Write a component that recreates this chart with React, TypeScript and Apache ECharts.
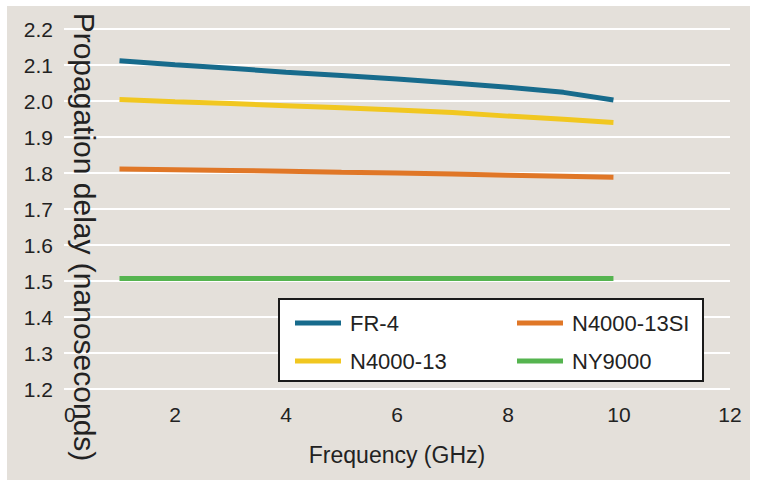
import React, { useEffect, useRef } from "react";
import * as echarts from "echarts";

const freqs = [1, 2, 3, 4, 5, 6, 7, 8, 9, 9.9];
const fr4 = [2.112, 2.101, 2.091, 2.08, 2.071, 2.061, 2.05, 2.038, 2.024, 2.003];
const n4000_13 = [2.004, 1.998, 1.993, 1.987, 1.981, 1.975, 1.968, 1.958, 1.949, 1.94];
const n4000_13si = [1.811, 1.809, 1.807, 1.805, 1.802, 1.8, 1.797, 1.794, 1.791, 1.788];
const ny9000 = [1.507, 1.507, 1.507, 1.507, 1.507, 1.507, 1.507, 1.507, 1.507, 1.507];

const seriesNames = ["FR-4", "N4000-13", "N4000-13SI", "NY9000"];
const seriesColors = ["#176b8c", "#f1c720", "#e07727", "#55b44f"];
const seriesValues = [fr4, n4000_13, n4000_13si, ny9000];

const FONT = "'Liberation Sans', Arial, sans-serif";
const TEXT = "#222";

export default function App() {
  const ref = useRef<HTMLDivElement>(null);

  useEffect(() => {
    if (!ref.current) return;
    const chart = echarts.init(ref.current, undefined, { renderer: "svg" });
    const legendText = {
      color: TEXT,
      fontSize: 22,
      fontFamily: FONT,
      lineHeight: 22,
      padding: [0, 0, 0, 4],
    };
    chart.setOption({
      animation: false,
      backgroundColor: "transparent",
      grid: { left: 64, right: 29, top: 29, bottom: 100 },
      xAxis: {
        type: "value",
        min: 0,
        max: 12,
        interval: 2,
        axisLine: { show: false },
        axisTick: { show: false },
        splitLine: { show: false },
        axisLabel: {
          color: TEXT,
          fontSize: 21,
          fontFamily: FONT,
          margin: 15,
          alignMinLabel: "left",
        },
        name: "Frequency (GHz)",
        nameLocation: "middle",
        nameGap: 66,
        nameTextStyle: {
          color: TEXT,
          fontSize: 23,
          fontFamily: FONT,
          verticalAlign: "middle",
        },
      },
      yAxis: {
        type: "value",
        min: 1.2,
        max: 2.2,
        interval: 0.1,
        axisLine: { show: false },
        axisTick: { show: false },
        splitLine: { show: true, lineStyle: { color: "#ffffff", width: 2 } },
        axisLabel: {
          color: TEXT,
          fontSize: 21,
          fontFamily: FONT,
          margin: 11,
          formatter: (v: number) => v.toFixed(1),
        },
      },
      legend: [
        {
          data: [seriesNames[0], seriesNames[1]],
          orient: "vertical",
          left: 295,
          top: 312,
          padding: 0,
          itemGap: 16,
          itemWidth: 46,
          itemHeight: 5,
          icon: "rect",
          z: 20,
          textStyle: legendText,
        },
        {
          data: [seriesNames[2], seriesNames[3]],
          orient: "vertical",
          left: 517,
          top: 312,
          padding: 0,
          itemGap: 16,
          itemWidth: 46,
          itemHeight: 5,
          icon: "rect",
          z: 20,
          textStyle: legendText,
        },
      ],
      graphic: [
        {
          type: "rect",
          z: 10,
          shape: { x: 279, y: 299, width: 424, height: 82 },
          style: { fill: "#ffffff", stroke: "#1a1a1a", lineWidth: 2 },
        },
        {
          type: "text",
          z: 10,
          x: 84,
          y: 237,
          rotation: -Math.PI / 2,
          style: {
            text: "Propagation delay (nanoseconds)",
            fontSize: 30,
            fontFamily: FONT,
            fill: TEXT,
            align: "center",
            verticalAlign: "middle",
          },
        },
      ],
      series: seriesNames.map((name, i) => ({
        name,
        type: "line",
        data: freqs.map((f, j) => [f, seriesValues[i][j]]),
        showSymbol: false,
        symbol: "none",
        color: seriesColors[i],
        lineStyle: { color: seriesColors[i], width: 5 },
      })),
    });
    return () => chart.dispose();
  }, []);

  return (
    <div style={{ position: "fixed", left: 0, top: 0, width: 759, height: 489, background: "#ffffff" }}>
      <div
        style={{
          position: "absolute",
          left: 7,
          top: 6,
          width: 743,
          height: 474,
          background: "#e4e0da",
        }}
      />
      <div ref={ref} style={{ position: "absolute", left: 0, top: 0, width: 759, height: 489 }} />
    </div>
  );
}
